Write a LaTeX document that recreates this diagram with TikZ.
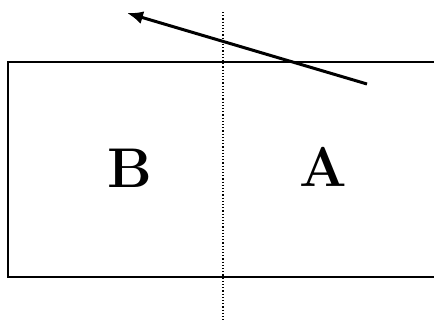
\documentclass[tikz,border=0pt]{standalone}
\usetikzlibrary{arrows.meta}
\begin{document}
\begin{tikzpicture}[x=1pt,y=-1pt,
  frame/.style={line width=2.4pt},
  divider/.style={line width=1.2pt,dotted},
  ray/.style={line width=3pt,-{Latex[length=16pt,width=13pt]}},
  letter/.style={font=\fontsize{56}{56}\selectfont\bfseries,inner sep=0pt}]
\useasboundingbox (0,0) rectangle (434,324);
\fill[white] (0,0) rectangle (434,324);
\coordinate (tl) at (8,62);
\coordinate (tr) at (434,62);
\coordinate (bl) at (8,277);
\coordinate (br) at (434,277);
\draw[frame] (tr) -- (tl) -- (bl) -- (br);
\coordinate (dtop) at (223,12);
\coordinate (dbot) at (223,322);
\draw[divider] (dtop) -- (dbot);
\coordinate (tail) at (367,84);
\coordinate (tip) at (127,13);
\draw[ray] (tail) -- (tip);
\node[letter] (B) at (130,168) {B};
\node[letter] (A) at (323,167) {A};
\end{tikzpicture}
\end{document}
